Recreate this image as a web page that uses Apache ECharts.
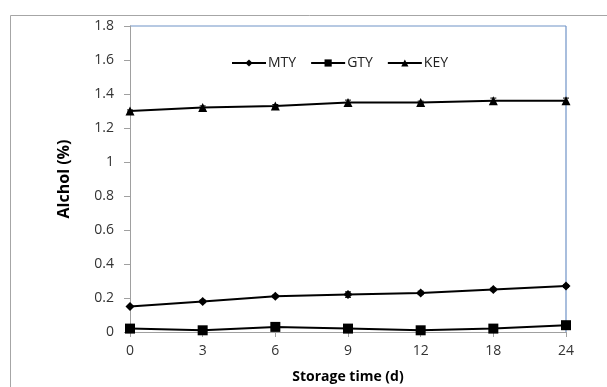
<!DOCTYPE html>
<html>
<head>
<meta charset="utf-8">
<script src="https://cdn.jsdelivr.net/npm/echarts@6/dist/echarts.min.js"></script>
<style>html,body{margin:0;padding:0;background:#fff;}#c{width:607px;height:387px;}</style>
</head>
<body>
<div id="c"></div>
<script>
var categories = ['0', '3', '6', '9', '12', '18', '24'];
var mtyValues = [0.15, 0.18, 0.21, 0.22, 0.23, 0.25, 0.27];
var gtyValues = [0.02, 0.01, 0.03, 0.02, 0.01, 0.02, 0.04];
var keyValues = [1.30, 1.32, 1.33, 1.35, 1.35, 1.36, 1.36];
var mtyErr = [0.006, 0.008, 0.008, 0.016, 0.01, 0.008, 0.008];
var gtyErr = [0.005, 0.005, 0.005, 0.005, 0.005, 0.005, 0.005];
var keyErr = [0.006, 0.01, 0.008, 0.014, 0.008, 0.016, 0.016];
var yTicks = ['0', '0.2', '0.4', '0.6', '0.8', '1', '1.2', '1.4', '1.6', '1.8'];

var FONT = 'Open Sans';
var chart = echarts.init(document.getElementById('c'), null, {renderer: 'canvas'});

function errSeries(vals, errs) {
  return {
    type: 'custom',
    silent: true,
    z: 1,
    data: vals.map(function (v, i) { return [i, v, errs[i]]; }),
    renderItem: function (params, api) {
      var i = api.value(0), v = api.value(1), e = api.value(2);
      var hi = api.coord([i, v + e]);
      var lo = api.coord([i, v - e]);
      var w = 3;
      var st = {stroke: '#000', lineWidth: 1};
      return {
        type: 'group',
        children: [
          {type: 'line', shape: {x1: hi[0], y1: hi[1], x2: lo[0], y2: lo[1]}, style: st},
          {type: 'line', shape: {x1: hi[0] - w, y1: hi[1], x2: hi[0] + w, y2: hi[1]}, style: st},
          {type: 'line', shape: {x1: lo[0] - w, y1: lo[1], x2: lo[0] + w, y2: lo[1]}, style: st}
        ]
      };
    }
  };
}

function lineSeries(name, vals, symbol, size) {
  return {
    name: name,
    type: 'line',
    data: vals,
    symbol: symbol,
    symbolSize: size,
    showAllSymbol: true,
    lineStyle: {color: '#000', width: 2},
    itemStyle: {color: '#000'},
    z: 3
  };
}

chart.setOption({
  animation: false,
  backgroundColor: '#fff',
  graphic: [
    {type: 'rect', shape: {x: 10.5, y: 15.5, width: 620, height: 400}, style: {fill: 'none', stroke: '#a6a6a6', lineWidth: 1}, z: -1},
    {type: 'line', shape: {x1: 130, y1: 26, x2: 566, y2: 26}, style: {stroke: '#6f93c6', lineWidth: 1}, z: 0},
    {type: 'line', shape: {x1: 566, y1: 26, x2: 566, y2: 332}, style: {stroke: '#6f93c6', lineWidth: 1.2}, z: 0}
  ],
  grid: {left: 130, right: 41, top: 26, bottom: 55, containLabel: false, outerBoundsMode: 'none'},
  legend: {
    top: 51,
    left: 226,
    itemWidth: 34,
    itemHeight: 9,
    itemGap: 14,
    textStyle: {fontFamily: FONT, fontSize: 14, color: '#222', padding: [0, 0, 0, -3]},
    data: ['MTY', 'GTY', 'KEY']
  },
  xAxis: {
    type: 'category',
    data: categories,
    boundaryGap: false,
    name: 'Storage time (d)',
    nameLocation: 'middle',
    nameGap: 38,
    nameTextStyle: {fontFamily: FONT, fontSize: 14, fontWeight: 'bold', color: '#000'},
    axisLine: {lineStyle: {color: '#a0a0a0', width: 1}},
    axisTick: {show: true, alignWithLabel: true, length: 5, lineStyle: {color: '#a0a0a0'}},
    axisLabel: {fontFamily: FONT, fontSize: 14, color: '#333', margin: 12},
    splitLine: {show: false}
  },
  yAxis: {
    type: 'value',
    min: 0,
    max: 1.8,
    interval: 0.2,
    name: 'Alchol (%)',
    nameLocation: 'middle',
    nameGap: 58,
    nameRotate: 90,
    nameTextStyle: {fontFamily: FONT, fontSize: 16, fontWeight: 'bold', color: '#000'},
    axisLine: {show: true, lineStyle: {color: '#a0a0a0', width: 1}},
    axisTick: {show: true, length: 6, lineStyle: {color: '#a0a0a0'}},
    axisLabel: {fontFamily: FONT, fontSize: 14, color: '#333', margin: 16,
      formatter: function (v) { var idx = Math.round(v / 0.2); return yTicks[idx]; }},
    splitLine: {show: false}
  },
  series: [
    errSeries(mtyValues, mtyErr),
    errSeries(gtyValues, gtyErr),
    errSeries(keyValues, keyErr),
    lineSeries('MTY', mtyValues, 'diamond', 9),
    lineSeries('GTY', gtyValues, 'rect', 10),
    lineSeries('KEY', keyValues, 'triangle', 9)
  ]
});
</script>
</body>
</html>
